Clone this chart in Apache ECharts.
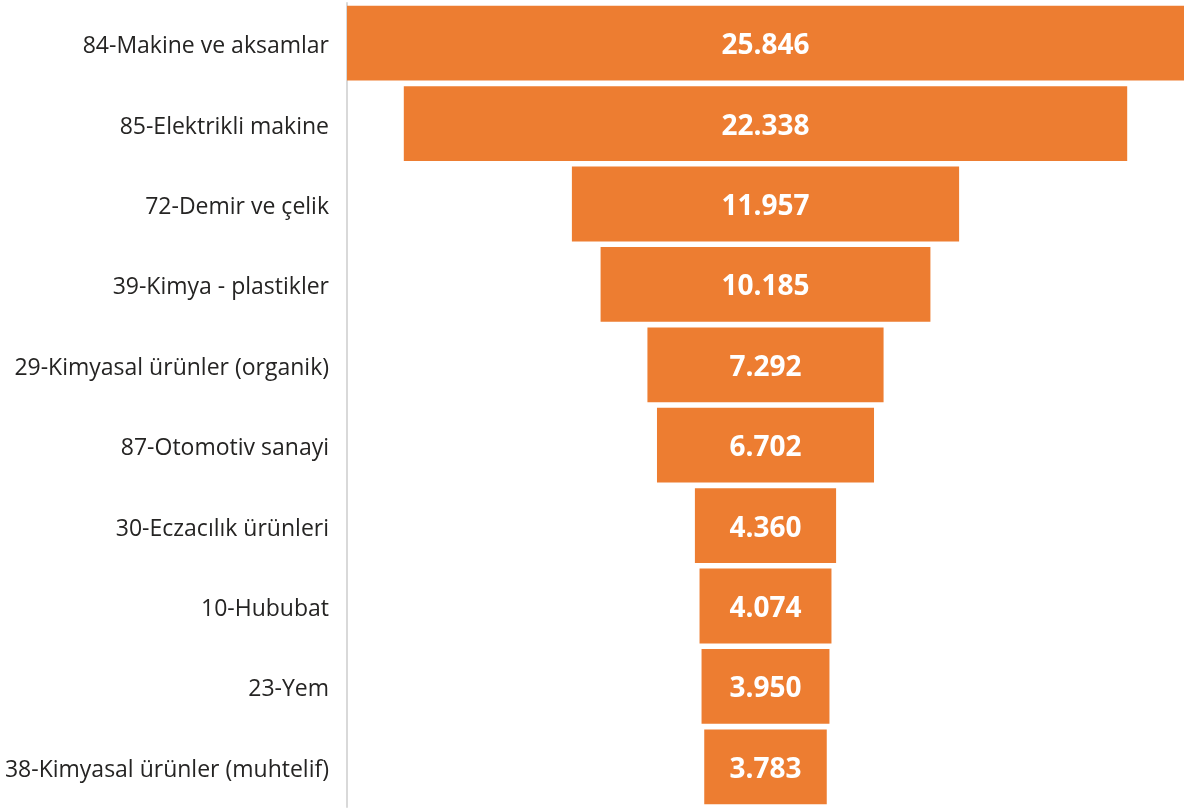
<!DOCTYPE html>
<html>
<head>
<meta charset="utf-8">
<script src="https://cdn.jsdelivr.net/npm/echarts@6/dist/echarts.min.js"></script>
<style>html,body{margin:0;padding:0;background:#fff;}#c{width:1184px;height:808px;}</style>
</head>
<body>
<div id="c"></div>
<script>
const categories = [
  "84-Makine ve aksamlar",
  "85-Elektrikli makine",
  "72-Demir ve çelik",
  "39-Kimya - plastikler",
  "29-Kimyasal ürünler (organik)",
  "87-Otomotiv sanayi",
  "30-Eczacılık ürünleri",
  "10-Hububat",
  "23-Yem",
  "38-Kimyasal ürünler (muhtelif)"
];
const values = [25846, 22338, 11957, 10185, 7292, 6702, 4360, 4074, 3950, 3783];

const maxVal = Math.max(...values);
const offsets = values.map(v => (maxVal - v) / 2);
const fmt = v => String(v).replace(/\B(?=(\d{3})+(?!\d))/g, ".");

const chart = echarts.init(document.getElementById('c'), null, {renderer: 'canvas'});
chart.setOption({
  animation: false,
  backgroundColor: '#ffffff',
  grid: {left: 347, right: 0, top: 3, bottom: 1, containLabel: false},
  xAxis: {
    type: 'value', min: 0, max: maxVal, show: false
  },
  yAxis: {
    type: 'category', inverse: true, data: categories,
    axisLine: {show: true, lineStyle: {color: '#d9d9d9', width: 2}},
    axisTick: {show: false},
    axisLabel: {
      color: '#252423', fontSize: 23, fontFamily: 'Open Sans', margin: 18,
      formatter: v => '{a|' + v + '}',
      rich: {a: {fontSize: 23, fontFamily: 'Open Sans', color: '#252423', padding: [7, 0, 0, 0]}}
    }
  },
  series: [
    {
      type: 'bar', stack: 'f', data: offsets, barCategoryGap: '7%',
      itemStyle: {color: 'rgba(0,0,0,0)'}, silent: true
    },
    {
      type: 'bar', stack: 'f', data: values, barCategoryGap: '7%',
      itemStyle: {color: '#ED7D31'},
      label: {
        show: true, position: 'inside', color: '#ffffff', fontSize: 28,
        fontWeight: 'bold', fontFamily: 'Open Sans', offset: [0, 3],
        formatter: p => fmt(p.value)
      }
    }
  ]
});
</script>
</body>
</html>
